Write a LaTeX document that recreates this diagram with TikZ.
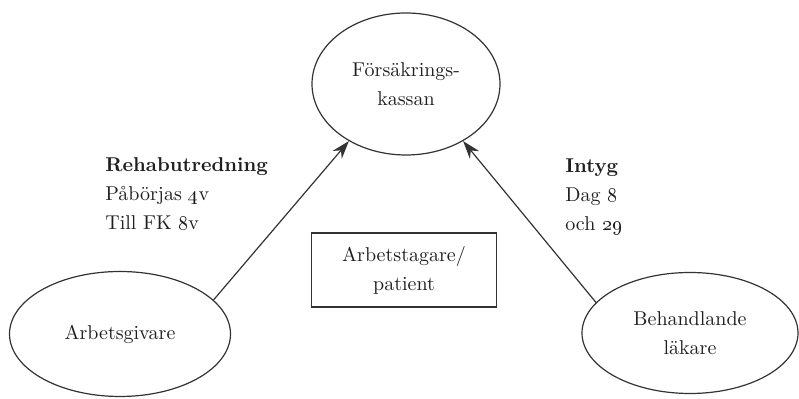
\documentclass[tikz,border=0pt]{standalone}
\usetikzlibrary{shapes.geometric,arrows.meta}
\begin{document}
\begin{tikzpicture}[x=0.5pt,y=-0.5pt,
  every node/.style={font=\fontsize{10}{14.5}\selectfont, text=black!88},
  oval/.style={ellipse, draw=black!80, line width=0.6pt, inner sep=0pt, align=center},
  boxed/.style={rectangle, draw=black!80, line width=0.6pt, inner sep=0pt, align=center},
  lbl/.style={anchor=base west, inner sep=0pt},
  conn/.style={draw=black!80, line width=0.6pt, -{Stealth[length=9pt,width=6pt]}}]
\useasboundingbox (0,0) rectangle (799,399);
\node[oval, minimum width=94pt, minimum height=71pt] (fk) at (406,84) {Försäkrings-\\kassan};
\node[oval, minimum width=110.5pt, minimum height=62.5pt] (ag) at (120,334) {Arbetsgivare};
\node[oval, minimum width=108pt, minimum height=60.5pt] (bl) at (690,333) {Behandlande\\läkare};
\node[boxed, minimum width=92.5pt, minimum height=37pt] (pt) at (404,270) {Arbetstagare/\\patient};
\node[lbl] (rehab) at (105,172) {\textbf{Rehabutredning}};
\node[lbl] (rehab2) at (105,201) {Påbörjas \oldstylenums{4}v};
\node[lbl] (rehab3) at (105,230) {Till FK \oldstylenums{8}v};
\node[lbl] (intyg) at (565,173) {\textbf{Intyg}};
\node[lbl] (intyg2) at (565,202) {Dag \oldstylenums{8}};
\node[lbl] (intyg3) at (565,231) {och \oldstylenums{29}};
\draw[conn] (ag.20) -- (fk.225);
\draw[conn] (bl.162) -- (fk.315);
\end{tikzpicture}
\end{document}
